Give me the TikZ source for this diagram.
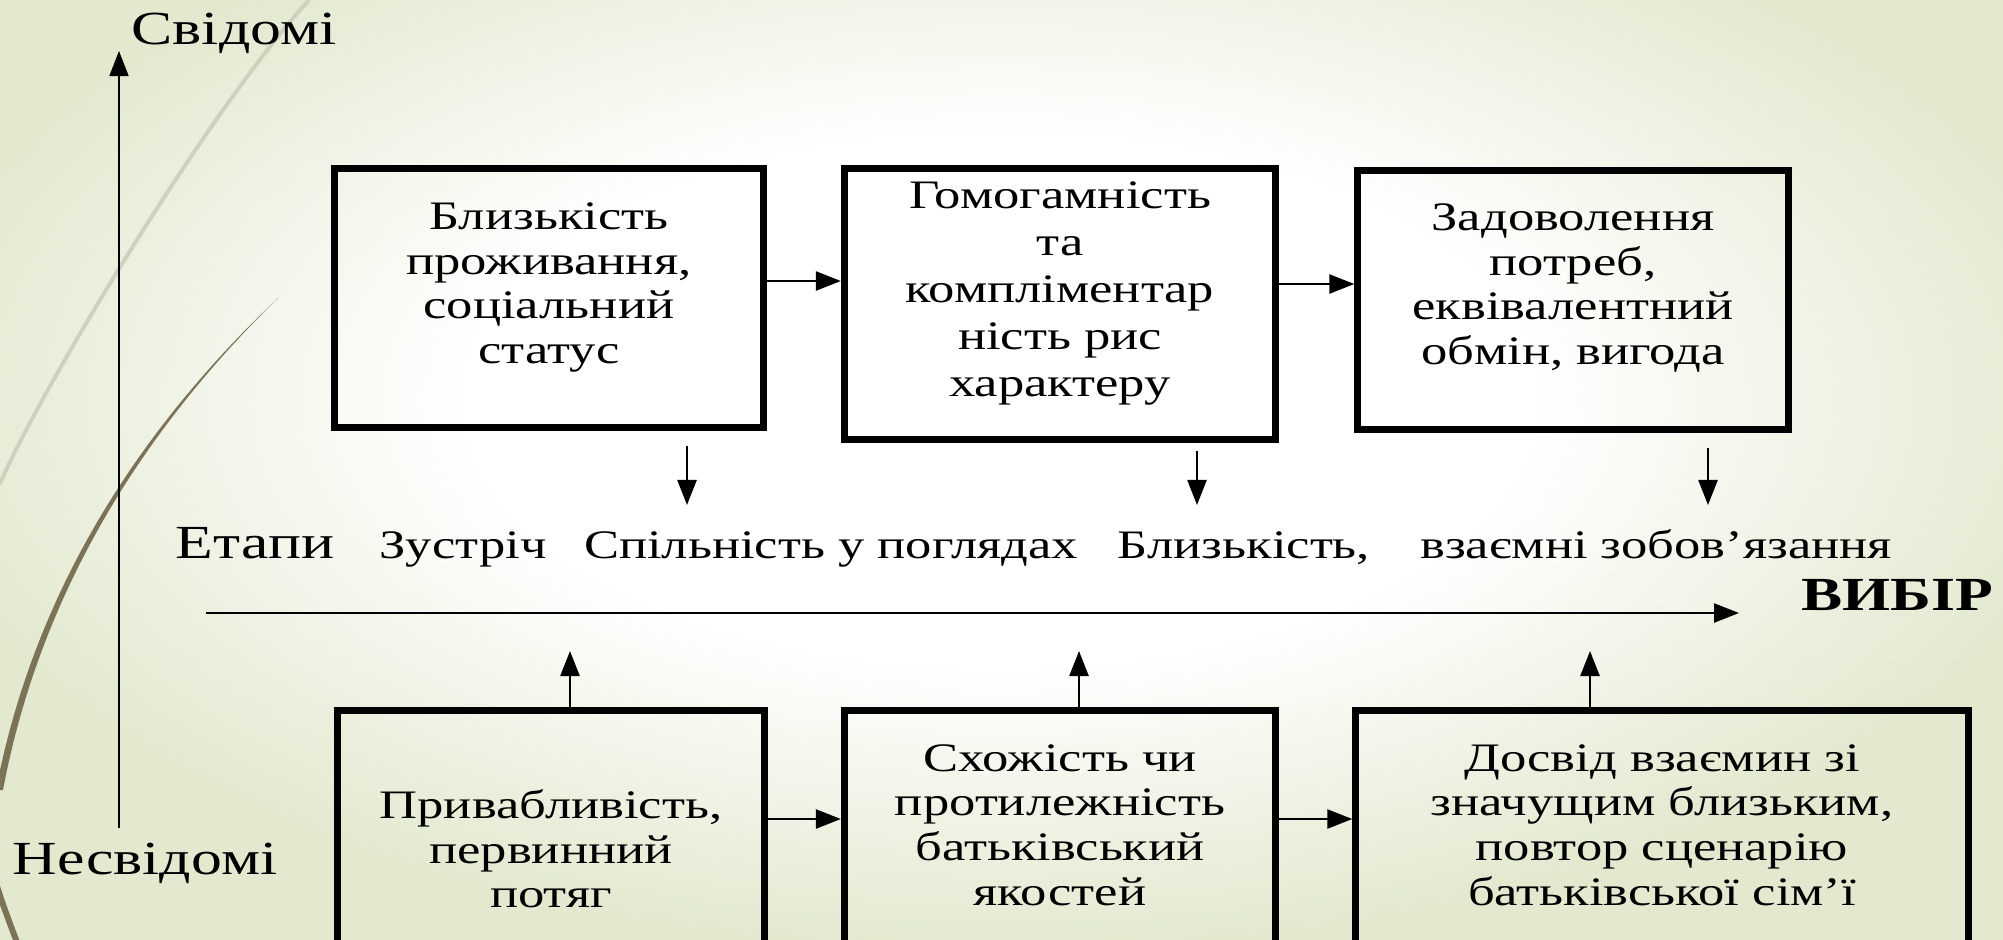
\documentclass[tikz,border=0pt]{standalone}
\usepackage{fontspec}
\setmainfont{Liberation Serif}[FakeStretch=1.3]
\usepackage{xcolor}
\usepackage{tikz}
\usetikzlibrary{positioning,arrows.meta,calc}

\definecolor{bggreen}{HTML}{E2E9CF}
\definecolor{wispgray}{HTML}{CDD2BE}
\definecolor{wispbrown}{HTML}{7C7357}
\pgfdeclareradialshading{wisp}{\pgfpoint{0bp}{0bp}}{color(0bp)=(white); color(12bp)=(white); color(25bp)=(bggreen); color(50bp)=(bggreen)}

\begin{document}
\begin{tikzpicture}[
				x=0.01cm, y=-0.01cm,
				font=\fontsize{11.5pt}{12.7pt}\selectfont,
				box/.style={
					rectangle,
					draw=black,
					line width=2pt,
					minimum width=4.3cm,
					minimum height=2.6cm,
					align=center,
					inner sep=0pt
				},
				stage/.style={
					anchor=base,
					inner sep=0pt
				},
				axislabel/.style={
					font=\fontsize{13.5pt}{15pt}\selectfont
				},
				arrow/.style={
					-{Triangle[length=0.25cm,width=0.19cm]},
					line width=0.7pt
				}
			]
			% Background
			\useasboundingbox (0,0) rectangle (2003,939);
			\clip (0,0) rectangle (2003,939);
			\shade[shading=wisp] (-100,-150) rectangle (2100,950);
			\draw[wispgray, line width=0.04cm] (309,0) .. controls (200,120) and (30,410) .. (0,484);
			\fill[wispbrown] (278,298) .. controls (170,400) and (40,560) .. (-4,790) -- (3,790) .. controls (46,562) and (172,402) .. (278,298) -- cycle;
			\draw[wispbrown, line width=0.06cm] (-5,880) .. controls (3,905) .. (18,945);
			
			% Nodes
			\node[box, text depth=8.5pt, minimum width=4.28cm, minimum height=2.58cm] (prox) at (549,298) {Близькість\\проживання,\\соціальний\\статус};
			\node[box, text depth=8.5pt, minimum width=4.31cm, minimum height=2.70cm, font=\fontsize{11.5pt}{13.4pt}\selectfont] (homog) at (1060,304) {Гомогамність\\та\\компліментар\\ність рис\\характеру};
			\node[box, text depth=9pt, minimum width=4.30cm, minimum height=2.59cm] (needs) at (1573,300) {Задоволення\\потреб,\\еквівалентний\\обмін, вигода};
			
			\node[box, minimum width=4.27cm, minimum height=2.76cm] (attract) at (551,849) {Привабливість,\\первинний\\потяг};
			\node[box, text depth=3.5pt, minimum width=4.31cm, minimum height=2.40cm] (similar) at (1060,831) {Схожість чи\\протилежність\\батьківський\\якостей};
			\node[box, text depth=3.5pt, minimum width=6.12cm, minimum height=2.40cm] (exper) at (1662,831) {Досвід взаємин зі\\значущим близьким,\\повтор сценарію\\батьківської сім’ї};
			
			\node[stage, axislabel] (etapy) at (255,558) {Етапи};
			\node[stage] (meet) at (463,558) {Зустріч};
			\node[stage] (common) at (831,558) {Спільність у поглядах};
			\node[stage] (close) at (1244,558) {Близькість,};
			\node[stage] (mutual) at (1656,558) {взаємні зобов’язання};
			\node[font=\fontsize{13.5pt}{15pt}\selectfont\bfseries] (choice) at (1897,595) {ВИБІР};
			\node[axislabel] (consc) at (234,33) {Свідомі};
			\node[axislabel] (uncons) at (145,863) {Несвідомі};
			
			\coordinate (axisLow) at (119,828);
			\coordinate (axisHigh) at (119,51);
			\coordinate (stageStart) at (206,613);
			\coordinate (stageEnd) at (1739,613);
			\coordinate (down1) at (687,505);
			\coordinate (down2) at (1197,505);
			\coordinate (down3) at (1708,505);
			\coordinate (up1) at (570,651);
			\coordinate (up2) at (1079,651);
			\coordinate (up3) at (1590,651);
			
			\draw[arrow, line width=0.5pt] (axisLow) -- (axisHigh);
			\draw[arrow] (stageStart) -- (stageEnd);
			
			\draw[arrow] (prox.east |- 0,281) -- (homog.west |- 0,281);
			\draw[arrow] (homog.east |- 0,284) -- (needs.west |- 0,284);
			\draw[arrow] (attract.east |- 0,819) -- (similar.west |- 0,819);
			\draw[arrow] (similar.east |- 0,819) -- (exper.west |- 0,819);
			
			\draw[arrow] ($(prox.south -| down1)+(0,15)$) -- (down1);
			\draw[arrow] ($(homog.south -| down2)+(0,8)$) -- (down2);
			\draw[arrow] ($(needs.south -| down3)+(0,15)$) -- (down3);
			
			\draw[arrow] (attract.north -| up1) -- (up1);
			\draw[arrow] (similar.north -| up2) -- (up2);
			\draw[arrow] (exper.north -| up3) -- (up3);
		\end{tikzpicture}
\end{document}
